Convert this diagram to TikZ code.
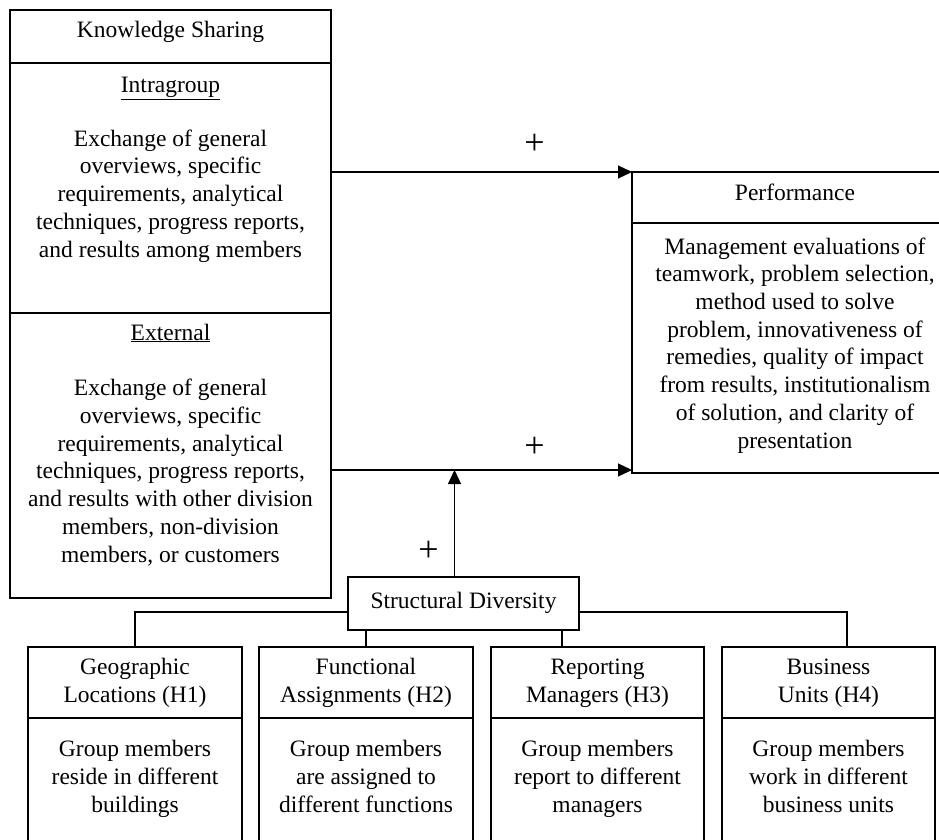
\documentclass[tikz,border=0pt]{standalone}
\usepackage{fontspec}
\setmainfont{Liberation Serif}
\usetikzlibrary{arrows.meta}

\begin{document}
\begin{tikzpicture}[x=1pt, y=-1pt, line width=1.3pt,
    every node/.style={font=\fontsize{23.5}{27.7}\selectfont},
    box/.style={draw, rectangle, inner sep=0pt, outer sep=0pt, anchor=north west},
    txt/.style={align=center, anchor=base, inner sep=0pt},
    plus/.style={inner sep=0pt, font=\fontsize{36}{36}\selectfont},
    arr/.style={-{Triangle[length=14pt, width=13pt]}}]
    \useasboundingbox (0,0) rectangle (939,840);
    \clip (0,0) rectangle (939,840);
    % knowledge sharing (text nodes sit on the baseline of their last line)
    \node[box, minimum width=321pt, minimum height=53pt] (ks) at (10,10) {};
    \node[box, minimum width=321pt, minimum height=250pt] (intra) at (10,63) {};
    \node[box, minimum width=321pt, minimum height=285pt] (ext) at (10,313) {};
    \node[txt] (kstxt) at (170.5,38) {Knowledge Sharing};
    \node[txt] (intrahd) at (170.5,93) {\underline{Intragroup}};
    \node[txt] (intratxt) at (170.5,257) {Exchange of general\\ overviews, specific\\
        requirements, analytical\\ techniques, progress reports,\\ and results among members};
    \node[txt] (exthd) at (170.5,340) {\underline{External}};
    \node[txt] (exttxt) at (170.5,562) {Exchange of general\\ overviews, specific\\
        requirements, analytical\\ techniques, progress reports,\\ and results with other division\\
        members, non-division\\ members, or customers};
    % performance
    \node[box, minimum width=326pt, minimum height=51pt] (perfhd) at (632,172) {};
    \node[box, minimum width=326pt, minimum height=250pt] (perfbody) at (632,223) {};
    \node[txt] (perftxt) at (795,200) {Performance};
    \node[txt] (perfdesc) at (795,448) {Management evaluations of\\ teamwork, problem selection,\\
        method used to solve\\ problem, innovativeness of\\ remedies, quality of impact\\
        from results, institutionalism\\ of solution, and clarity of\\ presentation};
    % structural diversity
    \node[box, minimum width=231pt, minimum height=53pt] (sd) at (348,577) {};
    \node[txt] (sdtxt) at (463.5,608) {Structural Diversity};
    % hypotheses
    \node[box, minimum width=214pt, minimum height=71pt] (h1) at (28,647) {};
    \node[box, minimum width=214pt, minimum height=150pt] (h1body) at (28,718) {};
    \node[box, minimum width=214pt, minimum height=71pt] (h2) at (259,647) {};
    \node[box, minimum width=214pt, minimum height=150pt] (h2body) at (259,718) {};
    \node[box, minimum width=213pt, minimum height=71pt] (h3) at (491,647) {};
    \node[box, minimum width=213pt, minimum height=150pt] (h3body) at (491,718) {};
    \node[box, minimum width=213pt, minimum height=71pt] (h4) at (722,647) {};
    \node[box, minimum width=213pt, minimum height=150pt] (h4body) at (722,718) {};
    \node[txt] (h1txt) at (135,702) {Geographic\\ Locations (H1)};
    \node[txt] (h1desc) at (135,812) {Group members\\ reside in different\\ buildings};
    \node[txt] (h2txt) at (366,702) {Functional\\ Assignments (H2)};
    \node[txt] (h2desc) at (366,812) {Group members\\ are assigned to\\ different functions};
    \node[txt] (h3txt) at (597.5,702) {Reporting\\ Managers (H3)};
    \node[txt] (h3desc) at (597.5,812) {Group members\\ report to different\\ managers};
    \node[txt] (h4txt) at (828.5,702) {Business\\ Units (H4)};
    \node[txt] (h4desc) at (828.5,812) {Group members\\ work in different\\ business units};
    % signs
    \node[plus] (p1) at (534.5,144.5) {+};
    \node[plus] (p2) at (534.5,447.5) {+};
    \node[plus] (p3) at (428.5,551.5) {+};
    % connectors
    \draw[arr] (intra.east |- perfhd.north west) -- (perfhd.north west);
    \draw[arr] ([yshift=3pt]ext.east |- perfbody.south west) -- ([yshift=3pt]perfbody.south west);
    \draw[arr] ([xshift=-9pt]sd.north) -- ([xshift=-9pt,yshift=3pt]sd.north |- perfbody.south);
    \draw ([yshift=-8.5pt]sd.west) -| (h1.north);
    \draw ([yshift=-8.5pt]sd.east) -| ([xshift=18.5pt]h4.north);
    \draw (h2.north |- sd.south) -- (h2.north);
    \draw ([xshift=-35.5pt]h3.north |- sd.south) -- ([xshift=-35.5pt]h3.north);
\end{tikzpicture}
\end{document}
